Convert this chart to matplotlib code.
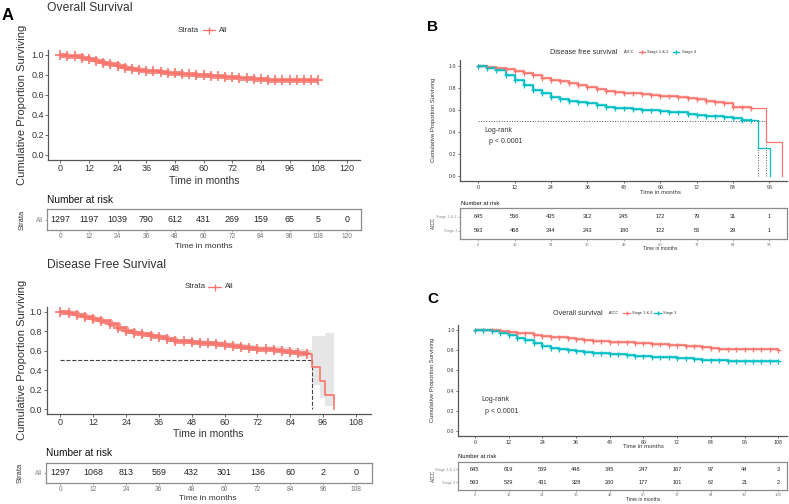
import numpy as np
import matplotlib
matplotlib.use('Agg')
import matplotlib.pyplot as plt
from matplotlib.lines import Line2D

plt.rcParams['font.family'] = ['Liberation Sans', 'DejaVu Sans']

W, H = 789, 504
RED = '#F8766D'
CYAN = '#00BFC4'
INK = '#333333'
AXIS = '#555555'
BOX = '#8c8c8c'

# ── Panel A: overall survival (all patients) ────────────────────────────────
os_t = [0, 3, 6, 9, 12, 15, 18, 21, 24, 27, 30, 33, 36, 39, 42, 45, 48, 51, 54,
        57, 60, 63, 66, 69, 72, 75, 78, 81, 84, 87, 90, 93, 96, 99, 102, 105, 108]
os_s = [1.0, 0.995, 0.99, 0.975, 0.957, 0.94, 0.925, 0.91, 0.895, 0.875, 0.862,
        0.853, 0.845, 0.837, 0.83, 0.825, 0.82, 0.815, 0.81, 0.805, 0.80, 0.795,
        0.79, 0.783, 0.777, 0.772, 0.767, 0.762, 0.757, 0.753, 0.75, 0.75, 0.75,
        0.75, 0.75, 0.75, 0.75]
os_risk_t = [0, 12, 24, 36, 48, 60, 72, 84, 96, 108, 120]
os_risk_n = [1297, 1197, 1039, 790, 612, 431, 269, 159, 65, 5, 0]

# ── Panel A: disease free survival (all patients) ───────────────────────────
dfs_t = [0, 3, 6, 9, 12, 15, 18, 21, 24, 27, 30, 33, 36, 39, 42, 45, 48, 51, 54,
         57, 60, 63, 66, 69, 72, 75, 78, 81, 84, 87, 90, 92, 95, 96.7, 100]
dfs_s = [1.0, 0.99, 0.97, 0.95, 0.925, 0.90, 0.87, 0.835, 0.80, 0.785, 0.77,
         0.755, 0.74, 0.72, 0.70, 0.695, 0.69, 0.683, 0.675, 0.668, 0.66, 0.65,
         0.64, 0.63, 0.62, 0.615, 0.61, 0.60, 0.59, 0.575, 0.565, 0.43, 0.29,
         0.14, 0.0]
dfs_lo = [1.0, 0.985, 0.962, 0.94, 0.913, 0.887, 0.855, 0.82, 0.784, 0.768,
          0.752, 0.736, 0.72, 0.70, 0.679, 0.673, 0.667, 0.659, 0.65, 0.642,
          0.633, 0.622, 0.611, 0.60, 0.589, 0.582, 0.576, 0.564, 0.552, 0.535,
          0.52, 0.247, 0.116, 0.03, 0.0]
dfs_hi = [1.0, 0.995, 0.978, 0.96, 0.937, 0.913, 0.885, 0.85, 0.816, 0.802,
          0.788, 0.774, 0.76, 0.74, 0.721, 0.717, 0.713, 0.707, 0.70, 0.694,
          0.687, 0.678, 0.669, 0.66, 0.651, 0.648, 0.644, 0.636, 0.628, 0.615,
          0.61, 0.75, 0.75, 0.777, 0.777]
dfs_last_censor = 90
dfs_median = 92
dfs_risk_t = [0, 12, 24, 36, 48, 60, 72, 84, 96, 108]
dfs_risk_n = [1297, 1068, 813, 569, 432, 301, 136, 60, 2, 0]

# ── Panel B: disease free survival by AJCC stage ────────────────────────────
groups = ['Stage 1 & 2', 'Stage 3']
b12_t = [0, 3, 6, 9, 12, 15, 18, 21, 24, 27, 30, 33, 36, 39, 42, 45, 48, 51, 54,
         57, 60, 63, 66, 69, 72, 75, 78, 81, 84, 87, 90, 95, 100]
b12_s = [1.0, 0.995, 0.985, 0.972, 0.957, 0.94, 0.918, 0.895, 0.872, 0.86,
         0.848, 0.83, 0.81, 0.79, 0.77, 0.763, 0.757, 0.75, 0.745, 0.738, 0.73,
         0.725, 0.72, 0.708, 0.696, 0.685, 0.675, 0.66, 0.63, 0.625, 0.62, 0.31,
         0.0]
b3_t = [0, 3, 6, 9, 12, 15, 18, 21, 24, 27, 30, 33, 36, 39, 42, 45, 48, 51, 54,
        57, 60, 63, 66, 69, 72, 75, 78, 81, 84, 87, 90, 92.4, 96.2]
b3_s = [1.0, 0.985, 0.964, 0.92, 0.872, 0.825, 0.78, 0.75, 0.72, 0.70, 0.68,
        0.67, 0.66, 0.645, 0.63, 0.62, 0.614, 0.607, 0.60, 0.595, 0.59, 0.585,
        0.578, 0.565, 0.553, 0.547, 0.54, 0.535, 0.53, 0.51, 0.51, 0.25, 0.0]
b_last_censor = 90
b_medians = [95, 92.4]
b_risk_t = [0, 12, 24, 36, 48, 60, 72, 84, 96]
b_risk_12 = [645, 556, 435, 312, 245, 172, 79, 31, 1]
b_risk_3 = [593, 468, 344, 243, 180, 122, 56, 29, 1]

# ── Panel C: overall survival by AJCC stage ─────────────────────────────────
c_t = [0, 3, 6, 9, 12, 15, 18, 21, 24, 27, 30, 33, 36, 39, 42, 45, 48, 51, 54,
       57, 60, 63, 66, 69, 72, 75, 78, 81, 84, 87, 90, 93, 96, 99, 102, 105, 108]
c12_s = [1.0, 1.0, 1.0, 0.99, 0.983, 0.975, 0.967, 0.955, 0.943, 0.935, 0.927,
         0.918, 0.91, 0.90, 0.893, 0.888, 0.883, 0.88, 0.877, 0.872, 0.867,
         0.863, 0.86, 0.855, 0.85, 0.845, 0.84, 0.835, 0.823, 0.81, 0.81, 0.81,
         0.81, 0.81, 0.809, 0.808, 0.807]
c3_s = [1.0, 1.0, 0.993, 0.975, 0.95, 0.925, 0.90, 0.87, 0.84, 0.823, 0.81,
        0.80, 0.79, 0.783, 0.777, 0.772, 0.767, 0.758, 0.75, 0.745, 0.74, 0.737,
        0.733, 0.73, 0.727, 0.72, 0.71, 0.708, 0.707, 0.70, 0.693, 0.693, 0.693,
        0.693, 0.693, 0.693, 0.693]
c_risk_t = [0, 12, 24, 36, 48, 60, 72, 84, 96, 108]
c_risk_12 = [645, 619, 569, 448, 345, 247, 167, 97, 44, 3]
c_risk_3 = [593, 529, 431, 328, 260, 177, 101, 62, 21, 2]

logrank_text = 'Log-rank\n  p < 0.0001'


def fx(x):
    return x / W


def fy(y):
    return 1 - y / H


def add_ax(fig, x0, y0, x1, y1):
    """Axes placed by pixel box (top-left origin)."""
    return fig.add_axes([x0 / W, 1 - y1 / H, (x1 - x0) / W, (y1 - y0) / H])


def km(ax, t, s, color, lw, ms, last_censor, band_lw):
    """Step curve; the censored stretch is drawn heavier with '+' marks on it."""
    t = np.asarray(t, dtype=float)
    s = np.asarray(s, dtype=float)
    ax.step(t, s, where='post', color=color, lw=lw, zorder=3)
    m = t <= last_censor
    ax.step(t[m], s[m], where='post', color=color, lw=band_lw, alpha=0.8,
            solid_capstyle='butt', zorder=3)
    ax.plot(t[m], s[m], ls='none', marker='+', ms=ms, mew=lw, color=color, zorder=4)


def style_main(ax, xlim, xticks, tick_fs, tick_len):
    ax.set_xlim(*xlim)
    ax.set_ylim(-0.05, 1.05)
    ax.set_xticks(xticks)
    ax.set_yticks([0, 0.2, 0.4, 0.6, 0.8, 1.0])
    ax.set_yticklabels(['0.0', '0.2', '0.4', '0.6', '0.8', '1.0'])
    for sp in ['top', 'right']:
        ax.spines[sp].set_visible(False)
    for sp in ['left', 'bottom']:
        ax.spines[sp].set_color(AXIS)
        ax.spines[sp].set_linewidth(0.9)
    ax.tick_params(labelsize=tick_fs, colors=AXIS, labelcolor=INK,
                   length=tick_len, width=0.6, pad=1.2)
    ax.patch.set_alpha(0)


def risk_table(ax, xlim, times, rows, labels, colors, num_fs, tick_fs, lab_fs):
    ax.set_xlim(*xlim)
    n = len(rows)
    ys = list(range(n - 1, -1, -1))
    if n == 1:
        ax.set_ylim(-0.5, 0.5)
    else:
        ax.set_ylim(-0.6, n - 1 + 0.6)
    for row, y in zip(rows, ys):
        for t, v in zip(times, row):
            ax.text(t, y, str(v), ha='center', va='center', fontsize=num_fs, color='#222222')
    ax.set_xticks(times)
    ax.set_yticks(ys)
    ax.set_yticklabels(labels)
    for lab, c in zip(ax.get_yticklabels(), colors):
        lab.set_color(c)
        lab.set_fontsize(lab_fs)
    for sp in ax.spines.values():
        sp.set_color(BOX)
        sp.set_linewidth(0.9)
    ax.tick_params(axis='x', labelsize=tick_fs, colors=BOX, labelcolor='#777777',
                   length=1.5, width=0.5, pad=1.0)
    ax.tick_params(axis='y', colors=BOX, length=1.5, width=0.5, pad=0.8)


def legend_row(fig, x_title, y, title, items, fs):
    """ggplot-like horizontal legend: items = [(x_line0, x_line1, x_text, label, color)]"""
    fig.text(fx(x_title), fy(y), title, fontsize=fs, va='center', ha='left', color=INK)
    for x0, x1, xt, lab, c in items:
        fig.add_artist(Line2D([fx(x0), fx(x1)], [fy(y), fy(y)], color=c, lw=0.9))
        fig.add_artist(Line2D([fx((x0 + x1) / 2)], [fy(y)], color=c, marker='+',
                              ms=fs * 0.9, mew=0.9))
        fig.text(fx(xt), fy(y), lab, fontsize=fs, va='center', ha='left', color=INK)


def place_xlabel(ax, fig, text, x, y, fs):
    ax.set_xlabel(text, fontsize=fs, color=INK)
    ax.xaxis.set_label_coords(fx(x), fy(y), transform=fig.transFigure)
    ax.xaxis.label.set_va('center')


def place_ylabel(ax, fig, text, x, y, fs):
    ax.set_ylabel(text, fontsize=fs, color=INK)
    ax.yaxis.set_label_coords(fx(x), fy(y), transform=fig.transFigure)
    ax.yaxis.label.set_va('center')


fig = plt.figure(figsize=(W / 100, H / 100), dpi=100)

# ── A (top): overall survival ───────────────────────────────────────────────
fig.text(fx(2), fy(16), 'A', fontsize=12, weight='bold', va='center', ha='left')
fig.text(fx(47), fy(8), 'Overall Survival', fontsize=8.7, va='center', ha='left', color=INK)
legend_row(fig, 178, 30, 'Strata', [(203, 215, 219, 'All', RED)], 5.6)

ax = add_ax(fig, 48.3, 50, 360, 160)
km(ax, os_t, os_s, RED, 1.2, 6.5, 108, 3.6)
style_main(ax, (-5, 125.5), os_risk_t, 6.5, 2)
place_ylabel(ax, fig, 'Cumulative Proportion Surviving', 22, 105, 8)
place_xlabel(ax, fig, 'Time in months', 204, 181, 7.5)

fig.text(fx(47), fy(200.5), 'Number at risk', fontsize=7.3, va='center', ha='left', color='#111111')
rt = add_ax(fig, 46.7, 209, 360.7, 230)
risk_table(rt, (-5.7, 125.8), os_risk_t, [os_risk_n], ['All'], [RED], 6.4, 4.8, 4.7)
place_ylabel(rt, fig, 'Strata', 22, 220, 5.4)
place_xlabel(rt, fig, 'Time in months', 204, 246.7, 6)

# ── A (bottom): disease free survival ───────────────────────────────────────
fig.text(fx(47), fy(265), 'Disease Free Survival', fontsize=8.7, va='center', ha='left', color=INK)
legend_row(fig, 185, 286.7, 'Strata', [(208, 221, 225, 'All', RED)], 5.6)

ax = add_ax(fig, 46.7, 306.8, 371, 413.9)
ax.fill_between(dfs_t, dfs_lo, dfs_hi, step='post', color='#e6e6e6', lw=0, zorder=1)
ax.plot([0, dfs_median], [0.5, 0.5], ls='--', color='#444444', lw=0.8, zorder=2)
ax.plot([dfs_median, dfs_median], [0.5, 0], ls='--', color='#444444', lw=0.8, zorder=2)
km(ax, dfs_t, dfs_s, RED, 1.2, 6.5, dfs_last_censor, 3.6)
style_main(ax, (-5, 113.5), dfs_risk_t, 6.5, 2)
place_ylabel(ax, fig, 'Cumulative Proportion Surviving', 22, 360, 8)
place_xlabel(ax, fig, 'Time in months', 208.5, 434, 7.5)

fig.text(fx(46), fy(453), 'Number at risk', fontsize=7.3, va='center', ha='left', color='#111111')
rt = add_ax(fig, 45.7, 462.7, 372, 482.7)
risk_table(rt, (-5.3, 113.8), dfs_risk_t, [dfs_risk_n], ['All'], [RED], 6.4, 4.8, 4.7)
place_ylabel(rt, fig, 'Strata', 20, 472.7, 5.4)
place_xlabel(rt, fig, 'Time in months', 208, 499, 6)

# ── B: disease free survival by stage ───────────────────────────────────────
fig.text(fx(427), fy(27), 'B', fontsize=11, weight='bold', va='center', ha='left')
fig.text(fx(550), fy(52), 'Disease free survival', fontsize=5.2, va='center', ha='left', color=INK)
legend_row(fig, 624, 52, 'AJCC', [(638.7, 645.3, 647, groups[0], RED),
                                  (672.7, 679.3, 681.7, groups[1], CYAN)], 3.0)

ax = add_ax(fig, 460, 60.5, 786.7, 181.2)
ax.plot([0, max(b_medians)], [0.5, 0.5], ls=':', color='#555555', lw=0.7, zorder=2)
for med in b_medians:
    ax.plot([med, med], [0.5, 0], ls=':', color='#555555', lw=0.7, zorder=2)
km(ax, b12_t, b12_s, RED, 0.9, 3.6, b_last_censor, 1.7)
km(ax, b3_t, b3_s, CYAN, 0.9, 3.6, b_last_censor, 1.7)
style_main(ax, (-6, 101.7), b_risk_t, 3.8, 1.5)
ax.text(2.2, 0.36, logrank_text, fontsize=5, va='center', ha='left',
        color=INK, linespacing=1.9)
place_ylabel(ax, fig, 'Cumulative Proportion Surviving', 434, 120, 4.2)
place_xlabel(ax, fig, 'Time in months', 660, 192.7, 4.3)

fig.text(fx(460.7), fy(203.3), 'Number at risk', fontsize=4.2, va='center', ha='left', color='#111111')
rt = add_ax(fig, 460, 208.3, 786.7, 239.3)
risk_table(rt, (-6, 101.7), b_risk_t, [b_risk_12, b_risk_3], groups, [RED, CYAN], 4.1, 3.0, 2.8)
place_ylabel(rt, fig, 'AJCC', 433, 223, 3.4)
place_xlabel(rt, fig, 'Time in months', 660, 249, 3.6)

# ── C: overall survival by stage ────────────────────────────────────────────
fig.text(fx(427), fy(299), 'C', fontsize=11, weight='bold', va='center', ha='left')
fig.text(fx(553), fy(313.3), 'Overall survival', fontsize=5.2, va='center', ha='left', color=INK)
legend_row(fig, 609, 313.3, 'AJCC', [(623, 630, 632, groups[0], RED),
                                     (654, 661, 663, groups[1], CYAN)], 2.8)

ax = add_ax(fig, 458.3, 325, 786.7, 436)
km(ax, c_t, c12_s, RED, 0.9, 3.6, 108, 1.7)
km(ax, c_t, c3_s, CYAN, 0.9, 3.6, 108, 1.7)
style_main(ax, (-5.9, 111), c_risk_t, 3.8, 1.5)
ax.text(2.3, 0.25, logrank_text, fontsize=5, va='center', ha='left',
        color=INK, linespacing=1.9)
place_ylabel(ax, fig, 'Cumulative Proportion Surviving', 433, 380, 4.2)
place_xlabel(ax, fig, 'Time in months', 643, 446.7, 4.3)

fig.text(fx(458), fy(456.7), 'Number at risk', fontsize=4.2, va='center', ha='left', color='#111111')
rt = add_ax(fig, 458.3, 461.7, 786.7, 490)
risk_table(rt, (-5.9, 111), c_risk_t, [c_risk_12, c_risk_3], groups, [RED, CYAN], 4.1, 3.0, 2.8)
place_ylabel(rt, fig, 'AJCC', 433, 475.7, 3.4)
place_xlabel(rt, fig, 'Time in months', 643, 499.3, 3.6)

fig.savefig('out.png', dpi=100)
